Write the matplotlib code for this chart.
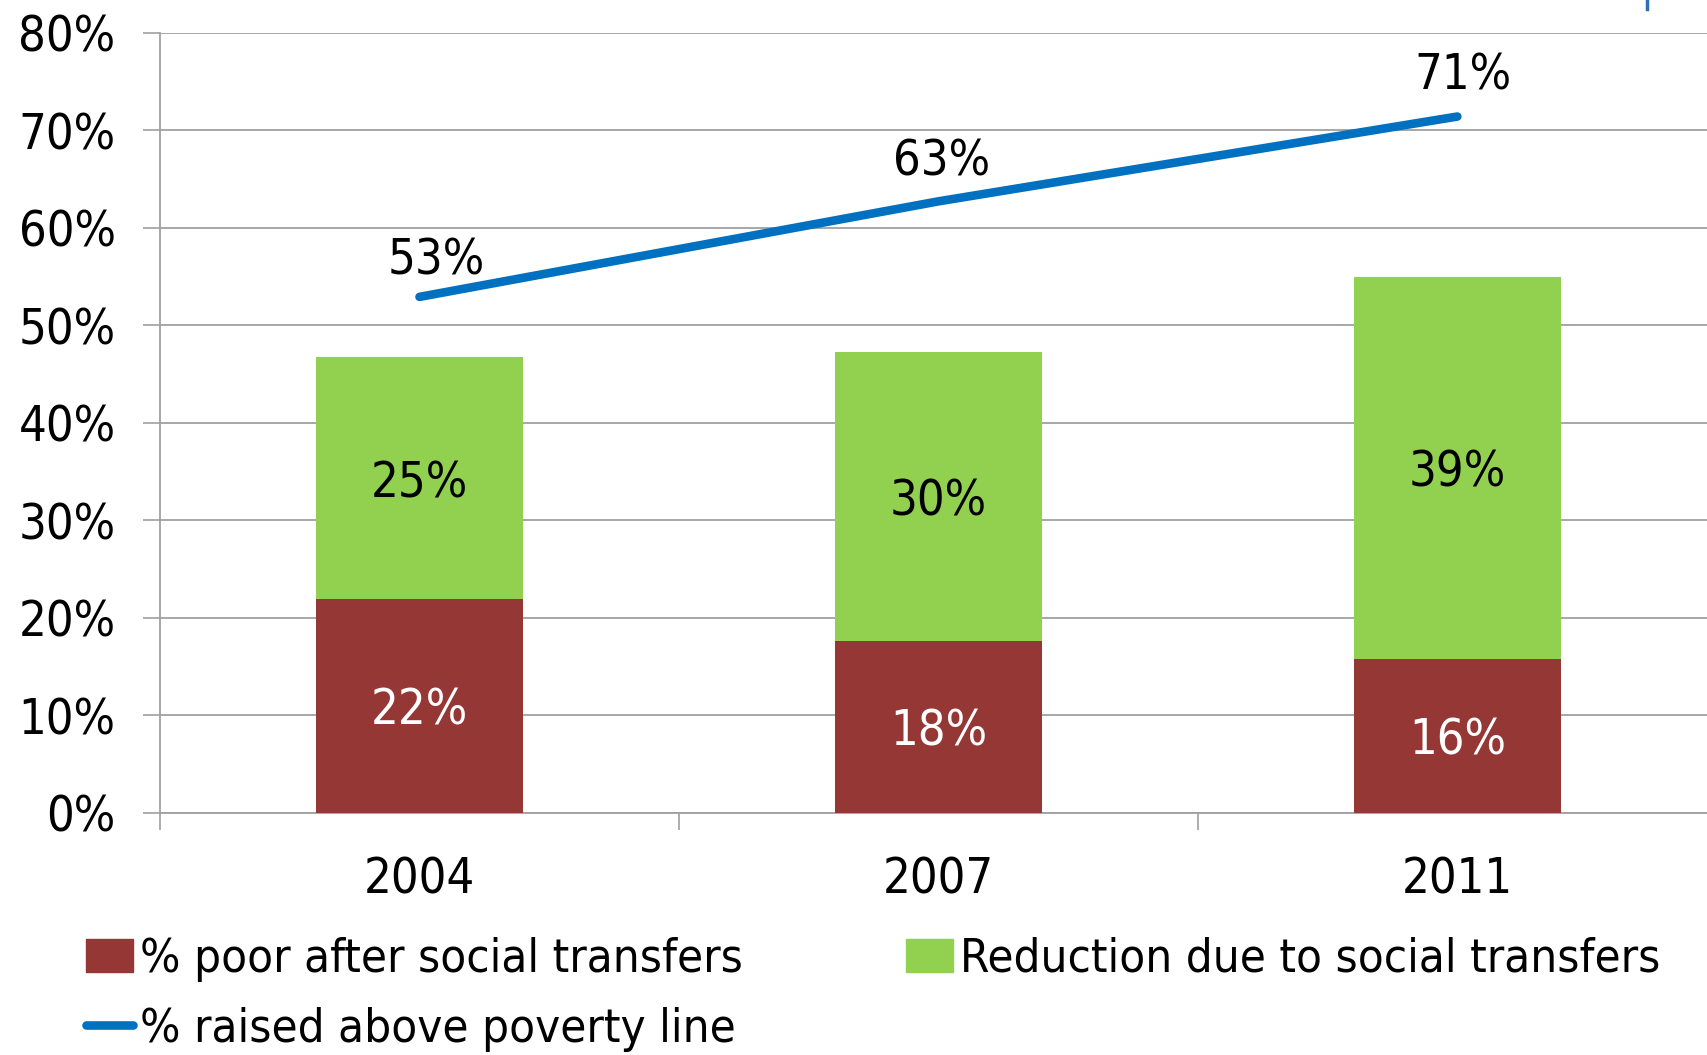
import matplotlib
matplotlib.use("Agg")
import matplotlib.pyplot as plt
from matplotlib.patches import Patch
from matplotlib.lines import Line2D
import numpy as np

# Data
years = ["2004", "2007", "2011"]
poor_after = [21.9, 17.6, 15.8]          # % poor after social transfers
reduction = [24.8, 29.6, 39.1]           # reduction due to social transfers
raised_above = [52.9, 62.7, 71.4]        # % raised above poverty line
y_ticks = [0, 10, 20, 30, 40, 50, 60, 70, 80]

RED = "#953735"
GREEN = "#92D050"
BLUE = "#0070C0"
GRID = "#a0a0a0"
FS = 35
LEG_FS = 34

plt.rcParams["font.family"] = ["DejaVu Sans"]
plt.rcParams["font.stretch"] = "condensed"

fig = plt.figure(figsize=(17.08, 10.55), dpi=100)
ax = fig.add_axes([0.0937, 0.2298, 0.9063, 0.7392])

x = np.arange(len(years))
w = 0.4
ax.bar(x, poor_after, width=w, color=RED, zorder=3)
ax.bar(x, reduction, width=w, bottom=poor_after, color=GREEN, zorder=3)
ax.plot(x, raised_above, color=BLUE, lw=6.2, solid_capstyle="round", zorder=4)

# Segment labels
for xi, p, r in zip(x, poor_after, reduction):
    ax.text(xi, p / 2, f"{p:.0f}%", ha="center", va="center_baseline",
            color="white", fontsize=FS, zorder=5)
    ax.text(xi, p + r / 2, f"{r:.0f}%", ha="center", va="center_baseline",
            color="black", fontsize=FS, zorder=5)

# Line labels
x_shift = [12, 2, 4]
y_shift = [29.7, 32, 33]
for xi, v, dx, dy in zip(x, raised_above, x_shift, y_shift):
    ax.annotate(f"{v:.0f}%", (xi, v), xytext=(dx, dy), textcoords="offset points",
                ha="center", va="center_baseline", fontsize=FS, color="black",
                zorder=5)

# Axes styling
ax.set_ylim(0, 80)
ax.set_xlim(-0.5, 2.483)
ax.set_yticks(y_ticks)
ax.set_yticklabels([f"{t}%" for t in y_ticks], fontsize=FS)
ax.yaxis.grid(True, color=GRID, lw=1.3, zorder=0)
ax.set_axisbelow(True)

ax.set_xticks([-0.5, 0.5, 1.5])
ax.set_xticklabels([])
ax.set_xticks(x, minor=True)
ax.set_xticklabels(years, minor=True, fontsize=FS)
ax.tick_params(axis="x", which="major", length=12, width=1.2, color=GRID, direction="out")
ax.tick_params(axis="x", which="minor", length=0, pad=31)
ax.tick_params(axis="y", length=12, width=1.2, color=GRID, direction="out", pad=20)

for s in ["top", "right"]:
    ax.spines[s].set_visible(False)
for s in ["left", "bottom"]:
    ax.spines[s].set_color(GRID)
    ax.spines[s].set_linewidth(1.3)

# Legend
handles = [
    Patch(facecolor=RED, edgecolor=RED),
    Line2D([0], [0], color=BLUE, lw=6.2, solid_capstyle="round"),
    Patch(facecolor=GREEN, edgecolor=GREEN),
]
labels = [
    "% poor after social transfers",
    "% raised above poverty line",
    "Reduction due to social transfers",
]
fig.legend(handles, labels, ncol=2, loc="upper left",
           bbox_to_anchor=(0.039, 0.1298), frameon=False,
           prop={"family": "DejaVu Sans", "stretch": "condensed", "size": LEG_FS},
           handlelength=1.0, handleheight=0.7, handletextpad=0.15,
           columnspacing=3.45, labelspacing=0.53, borderaxespad=0)

# Small blue mark at the top right corner
fig.add_artist(Line2D([1647 / 1708, 1647 / 1708], [1.0, 1 - 9 / 1055],
                      color="#2f6fb5", lw=2.5))

fig.savefig("out.png", dpi=100)
